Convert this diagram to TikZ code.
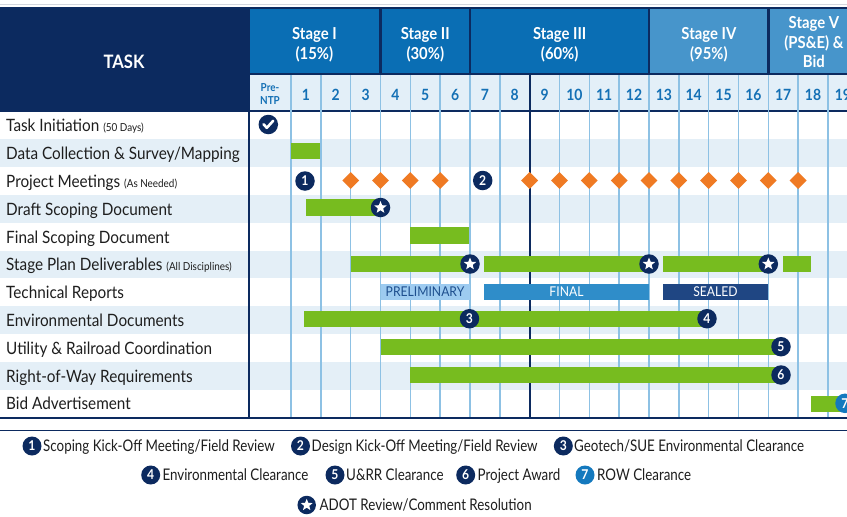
\documentclass[tikz,border=0pt]{standalone}
\usepackage{fontspec}
\setmainfont{Lato}[FakeStretch=0.9]
\newfontfamily\legfont{Lato}[FakeStretch=0.835]
\usetikzlibrary{shapes.geometric}
\definecolor{navy}{HTML}{0C2A5F}
\definecolor{stageblue}{HTML}{0A6EB4}
\definecolor{stagelight}{HTML}{4795CB}
\definecolor{numbg}{HTML}{E3EFF8}
\definecolor{rowbg}{HTML}{E4EFF7}
\definecolor{gridblue}{HTML}{8DC1E4}
\definecolor{numtext}{HTML}{1470B5}
\definecolor{bargreen}{HTML}{77BC1F}
\definecolor{diamorange}{HTML}{EF7A23}
\definecolor{prelimbg}{HTML}{9DCBF0}
\definecolor{prelimtext}{HTML}{1E4F8E}
\definecolor{finalbg}{HTML}{2F8DC9}
\definecolor{sealedbg}{HTML}{1F4683}
\definecolor{rowclear}{HTML}{1479BE}
\definecolor{ink}{HTML}{1E1E1E}
\definecolor{topgray}{HTML}{D3D7DE}
\newcommand\fs[2]{\fontsize{#1}{#2}\selectfont}
\begin{document}
\begin{tikzpicture}[x=1pt,y=-1pt,
  lbl/.style={anchor=base west, inner sep=0, text=ink, font=\fs{17}{20}},
  stagehd/.style={anchor=base, inner sep=0, text=white, font=\bfseries\fs{16.5}{20}},
  numlbl/.style={anchor=base, inner sep=0, text=numtext, font=\bfseries\fs{15.5}{18}},
  gridline/.style={draw=gridblue, line width=1.5pt},
  gbar/.style={fill=bargreen},
  numc/.style={circle, fill=navy, text=white, inner sep=0, minimum size=19.5pt, font=\bfseries\fs{13.5}{14}},
  starc/.style={circle, fill=navy, inner sep=0, minimum size=19.5pt},
  wstar/.style={star, star points=5, star point ratio=2.3, fill=white, inner sep=0, minimum size=13pt},
  diam/.style={diamond, fill=diamorange, inner sep=0, minimum width=17pt, minimum height=17pt},
  leg/.style={anchor=base west, inner sep=0, text=ink, font=\legfont\fs{16}{18}},
  techlbl/.style={anchor=center, inner sep=0, font=\fs{13.5}{14}},
]
\clip (0,0) rectangle (847,517);
\fill[white] (0,0) rectangle (847,517);
% top line and header block
\draw[topgray, line width=1pt] (0,4.5) -- (847,4.5);
\fill[navy] (0,7) rectangle (847,111.5);
\node[anchor=base, inner sep=0, text=white, font=\bfseries\fs{18.5}{20}] (task) at (124,68.3) {TASK};
% stage boxes
\fill[stageblue] (249.5,9) rectangle (379.3,73);
\fill[stageblue] (381.7,9) rectangle (469,73);
\fill[stageblue] (471.2,9) rectangle (648.2,73);
\fill[stagelight] (650.4,9) rectangle (767.4,73);
\fill[stagelight] (769.6,9) rectangle (860,73);
\node[stagehd] (s1a) at (314.4,39.5) {Stage I};
\node[stagehd] (s1b) at (314.4,59.5) {(15\%)};
\node[stagehd] (s2a) at (425.3,39.5) {Stage II};
\node[stagehd] (s2b) at (425.3,59.5) {(30\%)};
\node[stagehd] (s3a) at (559.7,39.5) {Stage III};
\node[stagehd] (s3b) at (559.7,59.5) {(60\%)};
\node[stagehd] (s4a) at (708.9,39.5) {Stage IV};
\node[stagehd] (s4b) at (708.9,59.5) {(95\%)};
\node[stagehd] (s5a) at (813.9,28.5) {Stage V};
\node[stagehd] (s5b) at (813.9,48) {(PS\&E) \&};
\node[stagehd] (s5c) at (813.9,67.5) {Bid};
% number row
\fill[numbg] (249.5,75) rectangle (860,110);
% row backgrounds
\foreach \r in {2,4,6,8,10} {
  \fill[rowbg] (0,{111.5+27.8*(\r-1)}) rectangle (847,{111.5+27.8*\r});
}
% grid lines
\foreach \k in {1,...,19} {
  \draw[gridline] ({291+29.83*(\k-1)},75) -- ({291+29.83*(\k-1)},417);
}
\draw[navy, line width=1.8pt] ({291+29.83*8},75) -- ({291+29.83*8},417);
\draw[navy, line width=2pt] (248.5,111) -- (248.5,417);
\draw[navy, line width=2.2pt] (0,417.6) -- (847,417.6);
\draw[navy, line width=1.3pt] (0,430.7) -- (847,430.7);
% column numbers
\node[anchor=base, inner sep=0, text=numtext, font=\bfseries\fs{11}{12}] (pre1) at (270,91.3) {Pre-};
\node[anchor=base, inner sep=0, text=numtext, font=\bfseries\fs{11}{12}] (pre2) at (270,104) {NTP};
\foreach \k in {1,...,19} {
  \node[numlbl] (n\k) at ({291+29.83*(\k-0.5)},100) {\k};
}
% task labels
\node[lbl] (t1) at (6,131.9) {Task Initiation {\fs{11}{12}(50 Days)}};
\node[lbl] (t2) at (6,159.7) {Data Collection \& Survey/Mapping};
\node[lbl] (t3) at (6,187.5) {Project Meetings {\fs{11}{12}(As Needed)}};
\node[lbl] (t4) at (6,215.3) {Draft Scoping Document};
\node[lbl] (t5) at (6,243.1) {Final Scoping Document};
\node[lbl] (t6) at (6,270.9) {Stage Plan Deliverables {\fs{11}{12}(All Disciplines)}};
\node[lbl] (t7) at (6,298.7) {Technical Reports};
\node[lbl] (t8) at (6,326.5) {Environmental Documents};
\node[lbl] (t9) at (6,354.3) {Utility \& Railroad Coordination};
\node[lbl] (t10) at (6,382.1) {Right-of-Way Requirements};
\node[lbl] (t11) at (6,409.9) {Bid Advertisement};
% bars
\fill[gbar] (291,142.5) rectangle (319.5,159.3);
\fill[gbar] (305.5,199) rectangle (380,216);
\fill[gbar] (410.3,227.3) rectangle (468.5,243.5);
\fill[gbar] (350.5,255.7) rectangle (470,271.9);
\fill[gbar] (484.3,255.7) rectangle (649,271.9);
\fill[gbar] (663.3,255.7) rectangle (768.3,271.9);
\fill[gbar] (782.7,255.7) rectangle (811,271.9);
\fill[gbar] (303.7,310.7) rectangle (707,326.7);
\fill[gbar] (380.5,339) rectangle (781,355);
\fill[gbar] (410.3,367) rectangle (781,383.3);
\fill[gbar] (811,396) rectangle (845,411.7);
% technical reports
\fill[prelimbg] (380.5,284) rectangle (469.5,300);
\node[techlbl, text=prelimtext] (prelim) at (425,292) {PRELIMINARY};
\fill[finalbg] (484.3,284) rectangle (648.7,300);
\node[techlbl, text=white] (final) at (566.5,292) {FINAL};
\fill[sealedbg] (663.3,284) rectangle (767.7,300);
\node[techlbl, text=white] (sealed) at (715.5,292) {SEALED};
% markers
\node[starc] (chk) at (268.3,124.5) {};
\draw[white, line width=2.6pt, line cap=round, line join=round]
  ([shift={(-4.8,-0.3)}]chk.center) -- ++(3.3,3.6) -- ++(6.4,-7);
\node[numc] (m1) at (305,181) {1};
\node[numc] (m2) at (482.7,180.5) {2};
\foreach \x [count=\i] in {350.7,380.5,410.3,440.2,529.6,559.5,589.3,619.2,649,678.8,708.6,738.5,768.3,798.1} {
  \node[diam] (d\i) at (\x,180.5) {};
}
\node[starc] (st1) at (380.5,207.5) {};
\node[wstar] (st1w) at (st1) {};
\node[starc] (st2) at (470,264) {};
\node[wstar] (st2w) at (st2) {};
\node[starc] (st3) at (649,264) {};
\node[wstar] (st3w) at (st3) {};
\node[starc] (st4) at (768.3,264) {};
\node[wstar] (st4w) at (st4) {};
\node[numc] (m3) at (469.5,318.7) {3};
\node[numc] (m4) at (707,318.7) {4};
\node[numc] (m5) at (781,346.7) {5};
\node[numc] (m6) at (781,375) {6};
\node[numc, fill=rowclear] (m7) at (845,403.3) {7};
% legend
\node[numc, minimum size=19pt] (l1) at (32,446) {1};
\node[leg] (lt1) at (43,451.7) {Scoping Kick-Off Meeting/Field Review};
\node[numc, minimum size=19pt] (l2) at (300.5,446) {2};
\node[leg] (lt2) at (311.5,451.7) {Design Kick-Off Meeting/Field Review};
\node[numc, minimum size=19pt] (l3) at (563.3,446) {3};
\node[leg] (lt3) at (574,451.7) {Geotech/SUE Environmental Clearance};
\node[numc, minimum size=19pt] (l4) at (150.7,475) {4};
\node[leg] (lt4) at (162.3,480.7) {Environmental Clearance};
\node[numc, minimum size=19pt] (l5) at (335,475) {5};
\node[leg] (lt5) at (346,480.7) {U\&RR Clearance};
\node[numc, minimum size=19pt] (l6) at (465.7,475) {6};
\node[leg] (lt6) at (477.5,480.7) {Project Award};
\node[numc, minimum size=19pt, fill=rowclear] (l7) at (585,475) {7};
\node[leg] (lt7) at (597,480.7) {ROW Clearance};
\node[starc, minimum size=18.5pt] (ls) at (306.7,505) {};
\node[wstar, minimum size=12.5pt] (lsw) at (ls) {};
\node[leg] (lts) at (319.5,510.7) {ADOT Review/Comment Resolution};
\end{tikzpicture}
\end{document}
